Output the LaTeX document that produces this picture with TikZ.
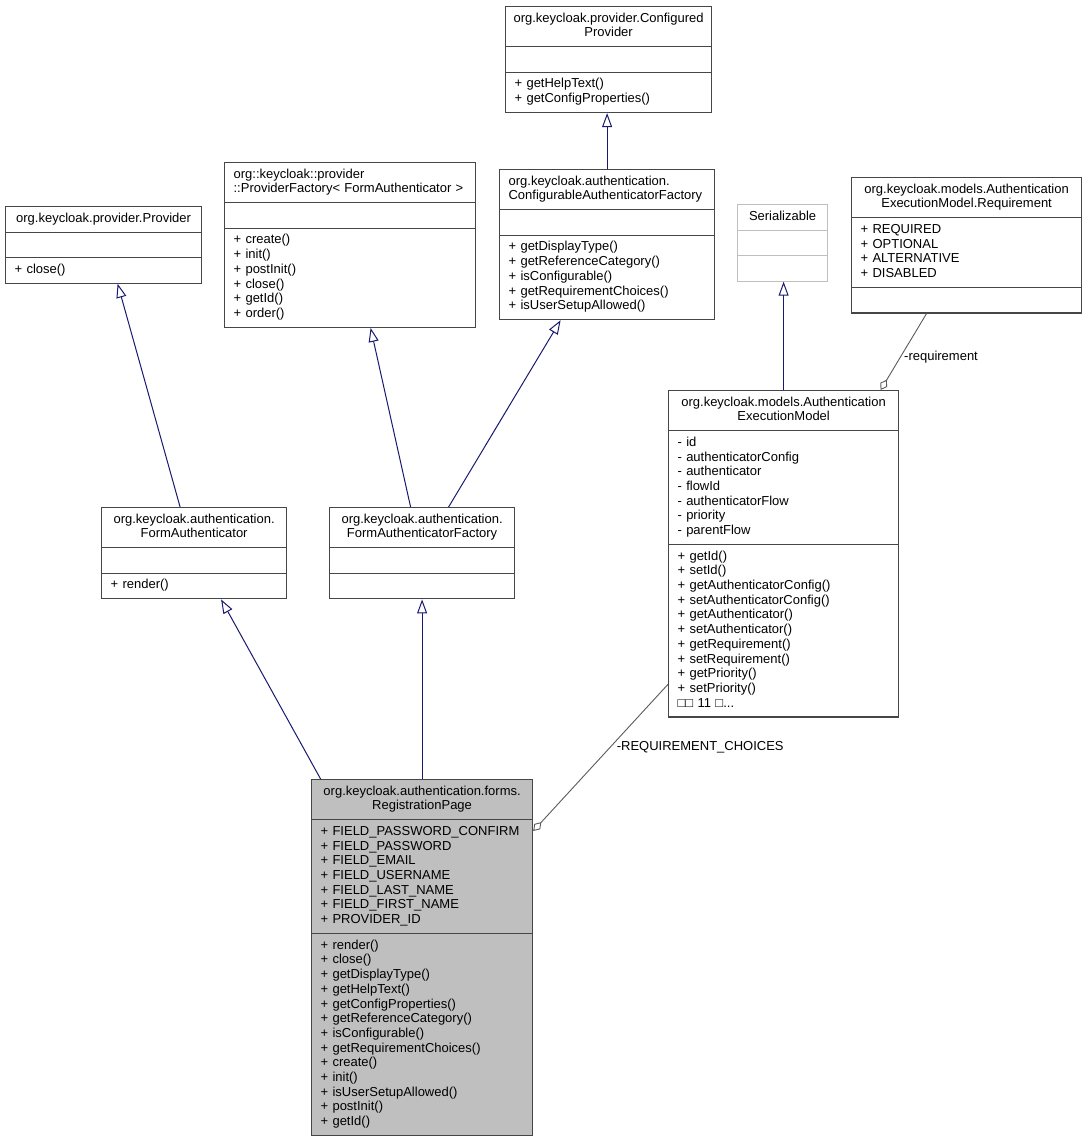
\documentclass[tikz,border=0pt]{standalone}
\usepackage{fontspec}
\setmainfont{Liberation Sans}
\usetikzlibrary{arrows.meta,shapes.multipart}
\definecolor{color_edge}{RGB}{25,25,112}
\definecolor{color_usage}{RGB}{90,90,90}
\definecolor{color_border}{RGB}{70,70,70}
\definecolor{color_grey}{RGB}{191,191,191}

\begin{document}
\begin{tikzpicture}[x=1pt,y=-1pt,
	class/.style={rectangle split, rectangle split parts=3, draw=color_border, line width=1.2pt,
		anchor=north west, align=left, inner xsep=9pt, inner ysep=4.8pt,
		font=\fontsize{13}{14.7}\selectfont,
		execute at begin node=\strut, execute at end node=\strut},
	extra class/.style={class, draw=color_grey},
	inherit/.style={draw=color_edge, line width=1pt, -{Triangle[open, length=14pt, width=10pt]}},
	usage/.style={draw=color_usage, line width=0.9pt, -{Diamond[open, length=12pt, width=8pt]}},
	usage label/.style={anchor=west, font=\fontsize{13}{14.7}\selectfont}]
	\useasboundingbox (0,0) rectangle (1087,1140);
	% PROVIDERS
	\node[class, text width=188pt] (cp) at (505,6) {\makebox[\linewidth]{org.keycloak.provider.Configured}\\\makebox[\linewidth]{Provider}%
		\nodepart{two}%
		\nodepart{three}+ getHelpText()\\+ getConfigProperties()};
	\node[class, text width=197pt] (cfg) at (499,169) {org.keycloak.authentication.\\ConfigurableAuthenticatorFactory%
		\nodepart{two}%
		\nodepart{three}+ getDisplayType()\\+ getReferenceCategory()\\+ isConfigurable()\\+ getRequirementChoices()\\+ isUserSetupAllowed()};
	\node[class, text width=233pt] (pf) at (224,162) {org::keycloak::provider\\::ProviderFactory< FormAuthenticator >%
		\nodepart{two}%
		\nodepart{three}+ create()\\+ init()\\+ postInit()\\+ close()\\+ getId()\\+ order()};
	\node[class, text width=178pt] (prov) at (5,206) {\makebox[\linewidth]{org.keycloak.provider.Provider}%
		\nodepart{two}%
		\nodepart{three}+ close()};
	% MODELS
	\node[extra class, text width=72pt] (ser) at (737,204) {\makebox[\linewidth]{Serializable}%
		\nodepart{two}%
		\nodepart{three}};
	\node[class, text width=212pt] (req) at (851,177) {\makebox[\linewidth]{org.keycloak.models.Authentication}\\\makebox[\linewidth]{ExecutionModel.Requirement}%
		\nodepart{two}+ REQUIRED\\+ OPTIONAL\\+ ALTERNATIVE\\+ DISABLED%
		\nodepart{three}};
	\node[class, text width=212pt] (aem) at (668,390) {\makebox[\linewidth]{org.keycloak.models.Authentication}\\\makebox[\linewidth]{ExecutionModel}%
		\nodepart{two}- id\\- authenticatorConfig\\- authenticator\\- flowId\\- authenticatorFlow\\- priority\\- parentFlow%
		\nodepart{three}+ getId()\\+ setId()\\+ getAuthenticatorConfig()\\+ setAuthenticatorConfig()\\+ getAuthenticator()\\+ setAuthenticator()\\+ getRequirement()\\+ setRequirement()\\+ getPriority()\\+ setPriority()\\□□ 11 □...};
	% FORMS
	\node[class, text width=167pt] (fa) at (101,507) {\makebox[\linewidth]{org.keycloak.authentication.}\\\makebox[\linewidth]{FormAuthenticator}%
		\nodepart{two}%
		\nodepart{three}+ render()};
	\node[class, text width=167pt] (faf) at (329,507) {\makebox[\linewidth]{org.keycloak.authentication.}\\\makebox[\linewidth]{FormAuthenticatorFactory}%
		\nodepart{two}%
		\nodepart{three}};
	\node[class, fill=color_grey, text width=203pt] (rp) at (311,779) {\makebox[\linewidth]{org.keycloak.authentication.forms.}\\\makebox[\linewidth]{RegistrationPage}%
		\nodepart{two}+ FIELD\_PASSWORD\_CONFIRM\\+ FIELD\_PASSWORD\\+ FIELD\_EMAIL\\+ FIELD\_USERNAME\\+ FIELD\_LAST\_NAME\\+ FIELD\_FIRST\_NAME\\+ PROVIDER\_ID%
		\nodepart{three}+ render()\\+ close()\\+ getDisplayType()\\+ getHelpText()\\+ getConfigProperties()\\+ getReferenceCategory()\\+ isConfigurable()\\+ getRequirementChoices()\\+ create()\\+ init()\\+ isUserSetupAllowed()\\+ postInit()\\+ getId()};
	% INHERITANCE
	\draw[inherit] (cfg.north) -- (cfg.north |- cp.south);
	\draw[inherit] ([xshift=-14pt]fa.north) -- ([xshift=14pt]prov.south);
	\draw[inherit] ([xshift=-11.5pt]faf.north) -- ([xshift=20.5pt]pf.south);
	\draw[inherit] ([xshift=26.5pt]faf.north) -- ([xshift=-46.5pt]cfg.south);
	\draw[inherit] ([xshift=-101.5pt]rp.north) -- ([xshift=27pt]fa.south);
	\draw[inherit] (rp.north) -- (faf.south);
	\draw[inherit] (aem.north) -- (aem.north |- ser.south);
	% USAGE
	\draw[usage] ([xshift=-40pt]req.south) -- node[usage label, pos=0.57] {-requirement} ([xshift=97pt]aem.north);
	\draw[usage] ([yshift=-130.5pt]aem.west) -- node[usage label, pos=0.43, xshift=3pt] {-REQUIREMENT\_CHOICES} ([yshift=126.5pt]rp.east);
\end{tikzpicture}
\end{document}
